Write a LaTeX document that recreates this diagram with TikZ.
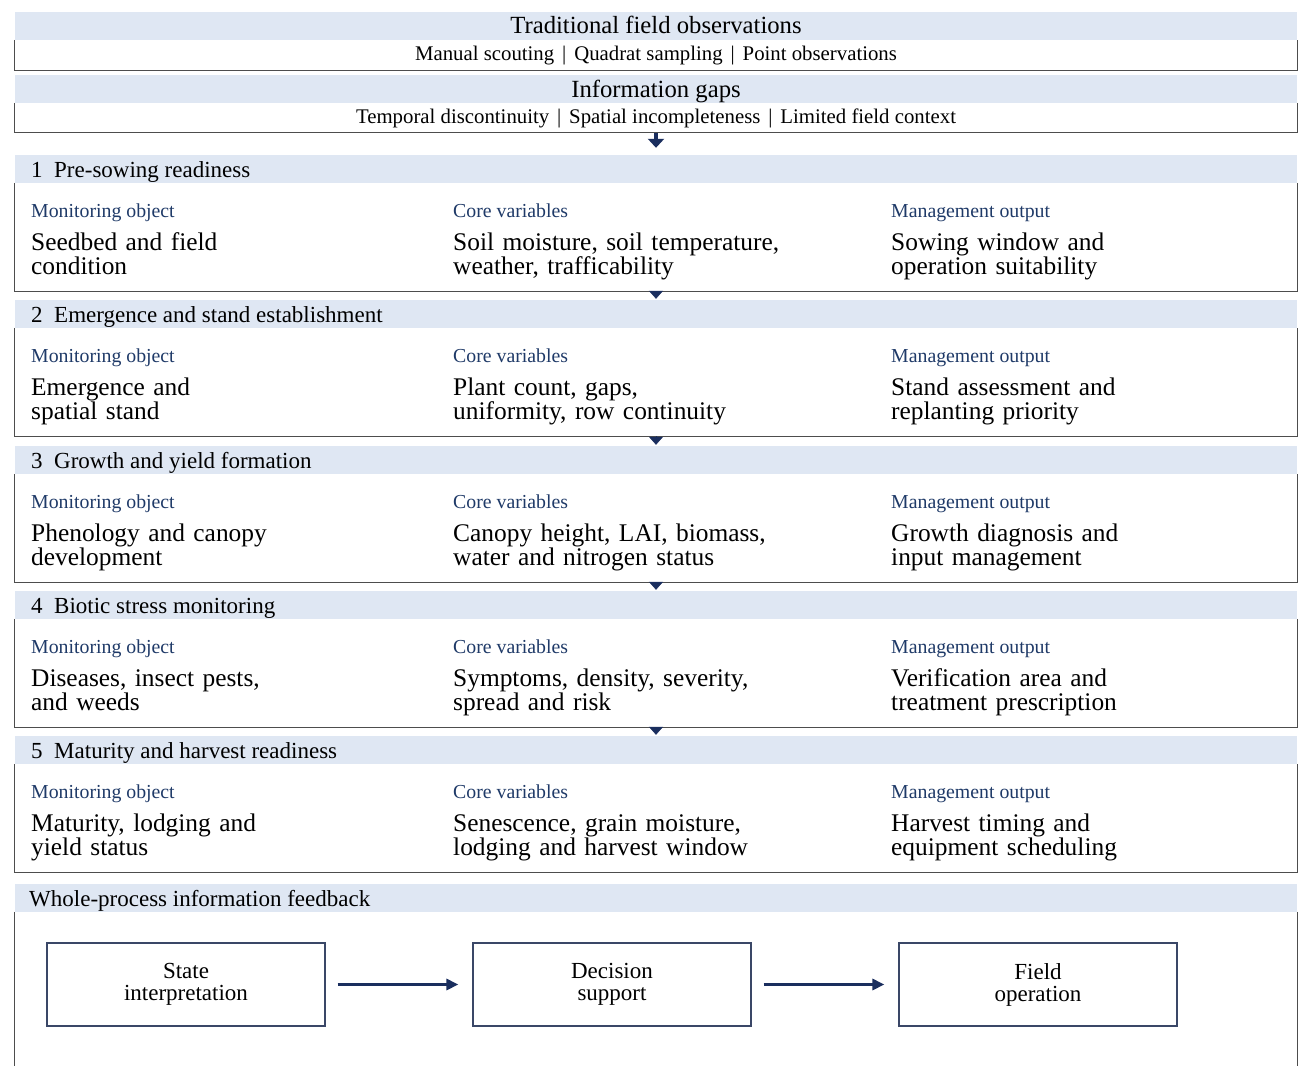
\documentclass[tikz,border=0pt]{standalone}
\usepackage{fontspec}
\setmainfont{Liberation Serif}
\usetikzlibrary{arrows.meta}

\definecolor{bandblue}{HTML}{DFE7F3}
\definecolor{navy}{HTML}{1F3A68}
\definecolor{arrownavy}{HTML}{1A2E5E}
\definecolor{framegray}{HTML}{4D4D4D}
\definecolor{boxline}{HTML}{3A4767}

\begin{document}
\begin{tikzpicture}[x=1pt, y=-1pt,
  band/.style={rectangle, fill=bandblue, minimum width=1282pt, minimum height=28pt, inner sep=0pt},
  bodybox/.style={rectangle, minimum width=1282pt, inner sep=0pt},
  frameline/.style={draw=framegray, line width=1.3pt},
  ttl/.style={anchor=base, inner sep=0pt, font=\fontsize{24.7}{28}\selectfont},
  subttl/.style={anchor=base, inner sep=0pt, font=\fontsize{20.8}{24}\selectfont},
  stagettl/.style={anchor=base west, inner sep=0pt, font=\fontsize{23}{26}\selectfont},
  lbl/.style={anchor=base west, inner sep=0pt, text=navy, font=\fontsize{19.8}{22}\selectfont},
  txt/.style={anchor=base west, inner sep=0pt, text width=400pt, align=left, font=\fontsize{25.4}{24}\selectfont},
  flowbox/.style={rectangle, draw=boxline, line width=1.2pt, minimum width=278pt, minimum height=83pt, align=center, font=\fontsize{23}{22}\selectfont},
  flowarrow/.style={draw=arrownavy, line width=3pt, -{Triangle[width=11pt,length=12pt]}, shorten <=12pt, shorten >=14pt},
  gaparrow/.style={draw=arrownavy, line width=4pt, -{Triangle[width=16pt,length=9pt]}, shorten <=1pt, shorten >=7pt},
  steparrow/.style={draw=arrownavy, line width=0.5pt, -{Triangle[width=14pt,length=8pt]}, shorten >=1pt}]

  \fill[white] (0,0) rectangle (1307,1073);
  \useasboundingbox (0,0) rectangle (1307,1073);

  % Header boxes
  \node[band] (tradhead) at (656,26) {};
  \node[bodybox, minimum height=30pt] (trad) at (656,55) {};
  \draw[frameline] (trad.north west) -- (trad.south west) -- (trad.south east) -- (trad.north east);
  \node[ttl] (tradttl) at (656,33.5) {Traditional field observations};
  \node[subttl] (tradsub) at (656,60.5) {Manual scouting\hspace{0.38em}|\hspace{0.38em}Quadrat sampling\hspace{0.38em}|\hspace{0.38em}Point observations};

  \node[band] (gapshead) at (656,89) {};
  \node[bodybox, minimum height=29pt] (gaps) at (656,117.5) {};
  \draw[frameline] (gaps.north west) -- (gaps.south west) -- (gaps.south east) -- (gaps.north east);
  \node[ttl] (gapsttl) at (656,97) {Information gaps};
  \node[subttl] (gapssub) at (656,124) {Temporal discontinuity\hspace{0.38em}|\hspace{0.38em}Spatial incompleteness\hspace{0.38em}|\hspace{0.38em}Limited field context};

  % Stage 1
  \node[band] (s1head) at (656,169) {};
  \node[bodybox, minimum height=108pt] (s1) at (656,237) {};
  \draw[frameline] (s1.north west) -- (s1.south west) -- (s1.south east) -- (s1.north east);
  \node[stagettl] (s1ttl) at (31,177) {1~~Pre-sowing readiness};
  \node[lbl] (s1la) at (31,217) {Monitoring object};
  \node[lbl] (s1lb) at (453,217) {Core variables};
  \node[lbl] (s1lc) at (891,217) {Management output};
  \node[txt] (s1a) at (31,250) {Seedbed and field\\condition};
  \node[txt] (s1b) at (453,250) {Soil moisture, soil temperature,\\weather, trafficability};
  \node[txt] (s1c) at (891,250) {Sowing window and\\operation suitability};

  % Stage 2
  \node[band] (s2head) at (656,314) {};
  \node[bodybox, minimum height=108pt] (s2) at (656,382) {};
  \draw[frameline] (s2.north west) -- (s2.south west) -- (s2.south east) -- (s2.north east);
  \node[stagettl] (s2ttl) at (31,322) {2~~Emergence and stand establishment};
  \node[lbl] (s2la) at (31,362) {Monitoring object};
  \node[lbl] (s2lb) at (453,362) {Core variables};
  \node[lbl] (s2lc) at (891,362) {Management output};
  \node[txt] (s2a) at (31,395) {Emergence and\\spatial stand};
  \node[txt] (s2b) at (453,395) {Plant count, gaps,\\uniformity, row continuity};
  \node[txt] (s2c) at (891,395) {Stand assessment and\\replanting priority};

  % Stage 3
  \node[band] (s3head) at (656,460) {};
  \node[bodybox, minimum height=108pt] (s3) at (656,528) {};
  \draw[frameline] (s3.north west) -- (s3.south west) -- (s3.south east) -- (s3.north east);
  \node[stagettl] (s3ttl) at (31,468) {3~~Growth and yield formation};
  \node[lbl] (s3la) at (31,508) {Monitoring object};
  \node[lbl] (s3lb) at (453,508) {Core variables};
  \node[lbl] (s3lc) at (891,508) {Management output};
  \node[txt] (s3a) at (31,541) {Phenology and canopy\\development};
  \node[txt] (s3b) at (453,541) {Canopy height, LAI, biomass,\\water and nitrogen status};
  \node[txt] (s3c) at (891,541) {Growth diagnosis and\\input management};

  % Stage 4
  \node[band] (s4head) at (656,605) {};
  \node[bodybox, minimum height=108pt] (s4) at (656,673) {};
  \draw[frameline] (s4.north west) -- (s4.south west) -- (s4.south east) -- (s4.north east);
  \node[stagettl] (s4ttl) at (31,613) {4~~Biotic stress monitoring};
  \node[lbl] (s4la) at (31,653) {Monitoring object};
  \node[lbl] (s4lb) at (453,653) {Core variables};
  \node[lbl] (s4lc) at (891,653) {Management output};
  \node[txt] (s4a) at (31,686) {Diseases, insect pests,\\and weeds};
  \node[txt] (s4b) at (453,686) {Symptoms, density, severity,\\spread and risk};
  \node[txt] (s4c) at (891,686) {Verification area and\\treatment prescription};

  % Stage 5
  \node[band] (s5head) at (656,750) {};
  \node[bodybox, minimum height=108pt] (s5) at (656,818) {};
  \draw[frameline] (s5.north west) -- (s5.south west) -- (s5.south east) -- (s5.north east);
  \node[stagettl] (s5ttl) at (31,758) {5~~Maturity and harvest readiness};
  \node[lbl] (s5la) at (31,798) {Monitoring object};
  \node[lbl] (s5lb) at (453,798) {Core variables};
  \node[lbl] (s5lc) at (891,798) {Management output};
  \node[txt] (s5a) at (31,831) {Maturity, lodging and\\yield status};
  \node[txt] (s5b) at (453,831) {Senescence, grain moisture,\\lodging and harvest window};
  \node[txt] (s5c) at (891,831) {Harvest timing and\\equipment scheduling};

  % Feedback
  \node[band] (fbhead) at (656,898) {};
  \node[bodybox, minimum height=154pt] (fb) at (656,989) {};
  \draw[frameline] (fb.north west) -- (fb.south west);
  \draw[frameline] (fb.north east) -- (fb.south east);
  \node[stagettl] (fbttl) at (29,906) {Whole-process information feedback};
  \node[flowbox] (state) at (186,984.5) {State\\interpretation};
  \node[flowbox] (decision) at (612,984.5) {Decision\\support};
  \node[flowbox] (fieldop) at (1038,984.5) {Field\\operation};

  % Edges
  \draw[gaparrow] (gaps.south) -- (s1head.north);
  \draw[steparrow] (s1.south) -- (s2head.north);
  \draw[steparrow] (s2.south) -- (s3head.north);
  \draw[steparrow] (s3.south) -- (s4head.north);
  \draw[steparrow] (s4.south) -- (s5head.north);
  \draw[flowarrow] (state) -- (decision);
  \draw[flowarrow] (decision) -- (fieldop);
\end{tikzpicture}
\end{document}
